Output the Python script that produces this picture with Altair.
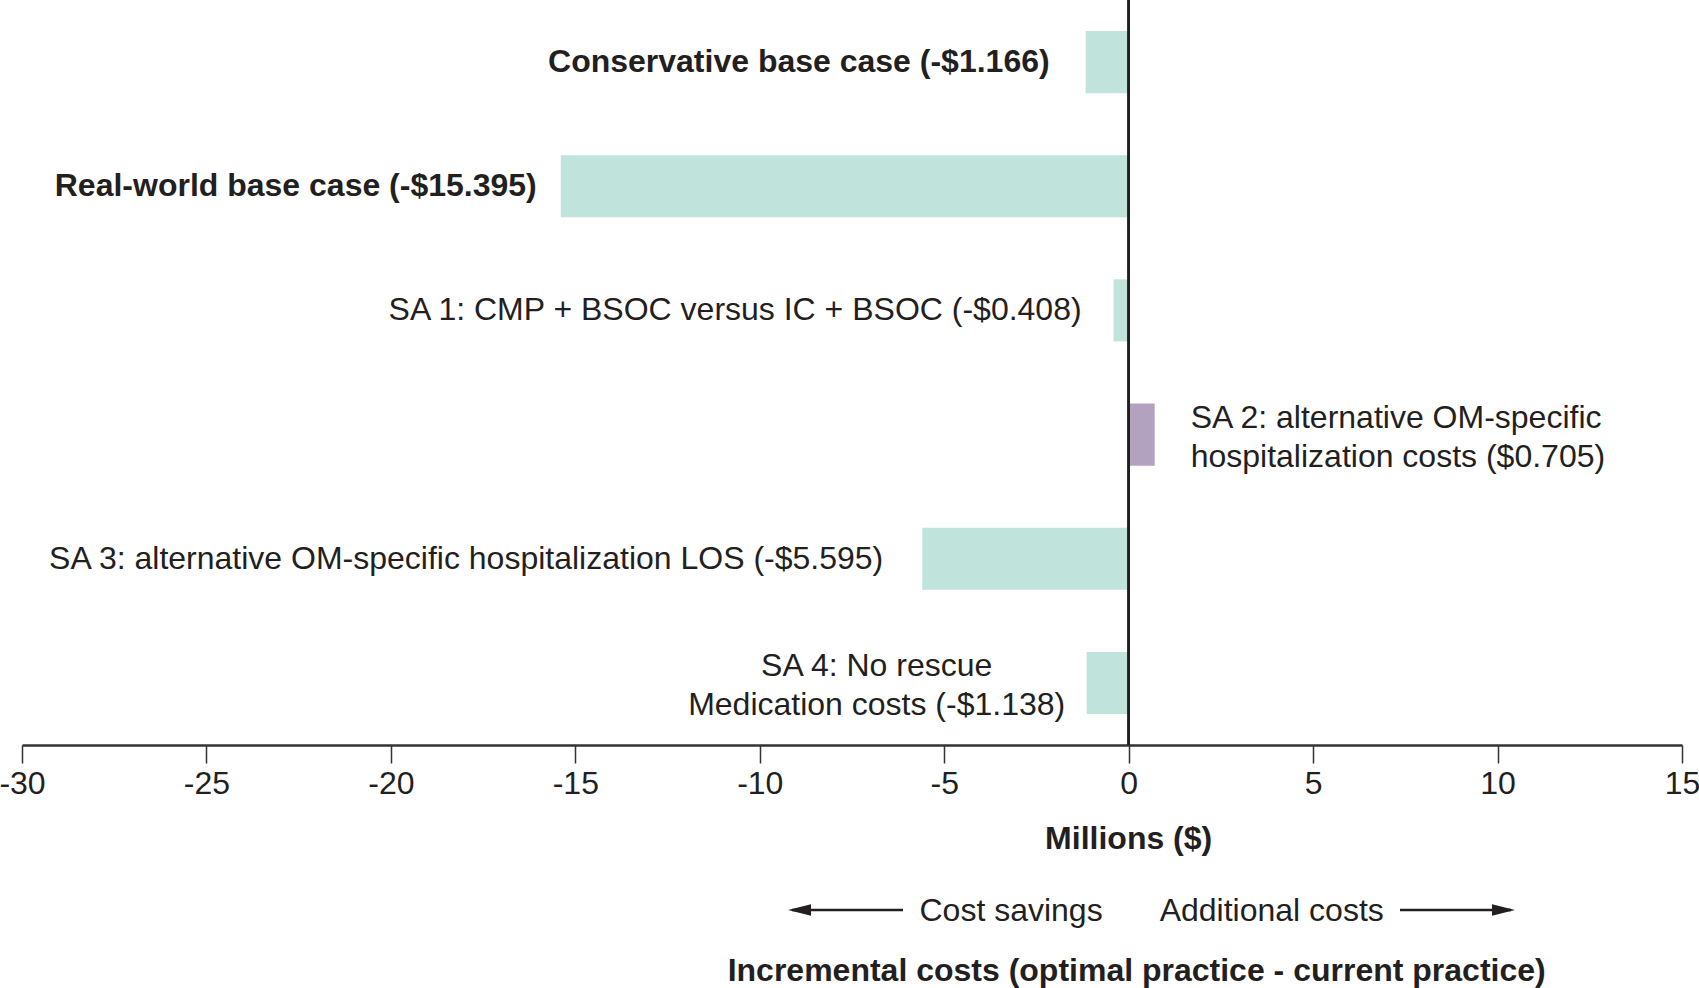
import altair as alt
import pandas as pd

# Scenarios (top to bottom) and incremental costs in millions of dollars
scenarios = [
    "Conservative base case",
    "Real-world base case",
    "SA 1: CMP + BSOC versus IC + BSOC",
    "SA 2: alternative OM-specific\nhospitalization costs",
    "SA 3: alternative OM-specific hospitalization LOS",
    "SA 4: No rescue\nMedication costs",
]
costs = [-1.166, -15.395, -0.408, 0.705, -5.595, -1.138]
x_ticks = [-30, -25, -20, -15, -10, -5, 0, 5, 10, 15]

FONT = "Liberation Sans"
INK = "#231f20"
SAVINGS = "#c0e3db"
EXTRA = "#b3a1c0"


def money(v):
    sign = "-" if v < 0 else ""
    return f"({sign}${abs(v):.3f})"


df = pd.DataFrame({
    "scenario": scenarios,
    "cost": costs,
    "label": [f"{s} {money(v)}" for s, v in zip(scenarios, costs)],
})

x_scale = alt.Scale(domain=[-30, 15], nice=False, zero=False)
y_scale = alt.Scale(domain=scenarios, paddingInner=0.5, paddingOuter=0.25)

bars = alt.Chart(df).mark_bar().encode(
    x=alt.X("cost:Q", scale=x_scale,
            axis=alt.Axis(values=x_ticks, title=None, grid=False,
                          labelExpr="'' + datum.value",
                          domainColor="#333333", domainWidth=2.5,
                          tickColor="#333333", tickWidth=1.5, tickSize=18,
                          labelFont=FONT, labelFontSize=32, labelColor=INK,
                          labelPadding=5, labelFlush=False)),
    x2=alt.datum(0),
    y=alt.Y("scenario:N", scale=y_scale, axis=None, sort=scenarios),
    color=alt.condition(alt.datum.cost < 0, alt.value(SAVINGS), alt.value(EXTRA)),
)

zero_line = alt.Chart(df).mark_rule(color=INK, strokeWidth=2).encode(
    x=alt.datum(0), y=alt.value(0), y2=alt.value(745)
)

# Per-scenario label styling: weight, alignment and offset from the bar end
label_styles = [
    dict(fontWeight="bold", align="right", dx=-36),
    dict(fontWeight="bold", align="right", dx=-24),
    dict(fontWeight="normal", align="right", dx=-32),
    dict(fontWeight="normal", align="left", dx=36, dy=-17),
    dict(fontWeight="normal", align="right", dx=-39),
    dict(fontWeight="normal", align="center", dx=-210, dy=-17),
]

labels = []
for i, style in enumerate(label_styles):
    labels.append(
        alt.Chart(df.iloc[[i]]).mark_text(
            font=FONT, fontSize=32, color=INK, baseline="middle",
            lineBreak="\n", lineHeight=39, **style
        ).encode(
            x=alt.X("cost:Q", scale=x_scale),
            y=alt.Y("scenario:N", scale=y_scale, sort=scenarios),
            text="label:N",
        )
    )

# Axis title and direction annotations anchored at zero
def note(text, y, weight="normal", align="center", dx=0):
    return alt.Chart(df.iloc[[0]]).mark_text(
        font=FONT, fontSize=32, color=INK, fontWeight=weight,
        align=align, baseline="middle", dx=dx
    ).encode(x=alt.datum(0), y=alt.value(y), text=alt.value(text))


notes = [
    note("Millions ($)", 839, weight="bold"),
    note("Cost savings", 911, align="right", dx=-26),
    note("Additional costs", 911, align="left", dx=31),
    note("Incremental costs (optimal practice - current practice)", 971,
         weight="bold", dx=8),
]

arrow_left = alt.Chart(df.iloc[[0]]).mark_rule(color=INK, strokeWidth=2.5).encode(
    x=alt.value(770), x2=alt.value(881), y=alt.value(910)
)
arrow_right = alt.Chart(df.iloc[[0]]).mark_rule(color=INK, strokeWidth=2.5).encode(
    x=alt.value(1378), x2=alt.value(1489), y=alt.value(910)
)
head_left = alt.Chart(df.iloc[[0]]).mark_point(
    shape="M -1 0 L 1 -0.5 L 1 0.5 Z", filled=True, color=INK, size=529, opacity=1
).encode(x=alt.value(777.5), y=alt.value(910))
head_right = alt.Chart(df.iloc[[0]]).mark_point(
    shape="M 1 0 L -1 -0.5 L -1 0.5 Z", filled=True, color=INK, size=529, opacity=1
).encode(x=alt.value(1481.5), y=alt.value(910))

chart = alt.layer(
    bars, zero_line, *labels, *notes, arrow_left, arrow_right, head_left, head_right
).properties(
    width=1660,
    height=745,
    autosize=alt.AutoSizeParams(type="none"),
    padding={"left": 22, "top": 0, "right": 17, "bottom": 243},
    background="white",
).configure_view(stroke=None)

chart.save("out.html", embed_options={"renderer": "svg", "actions": False})
